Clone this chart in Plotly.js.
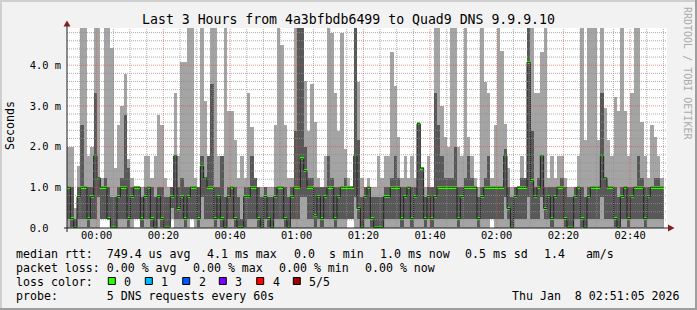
<!DOCTYPE html>
<html><head><meta charset="utf-8">
<script src="https://cdn.plot.ly/plotly-3.0.1.min.js"></script>
<style>html,body{margin:0;padding:0;background:#f2f2f2;}#chart{width:697px;height:310px;}</style>
</head><body><div id="chart"></div>
<script>
// one value per minute, ms; 9 = above graph maximum
const ping1 = [0,0,0,0,0,0,0,0,0,0, 0.23,0.23,0.23,0,0,0,0,0,0,0, 0.23,0.23,0,0,0,0,0,0,0,0,
 0.02,0.23,0,0,0,0,0,0.23,0,0, 0,0,0,0,0,0,0,0,0,0, 0,0,0,0,0,0,0,0,0,0,
 0,0,0,0,0,0,0,0,0,0, 0,0,0,0,0,0,0,0,0,0, 0,0,0,0,0.23,0.23,0,0,0,0,
 0,0,0,0,0,0,0,0,0,0, 0,0,0,0,0,0,0,0,0,0, 0,0,0,0,0,0,0,0,0,0,
 0,0,0,0,0,0,0,0.23,0,0, 0,0,0,0,0,0,0,0,0,0, 0,0,0,0,0,0,0,0,0,0,
 0,0,0,0,0,0,0,0,0,0, 0,0,0,0,0,0,0,0,0,0, 0,0,0,0,0,0,0,0,0];
const ping2 = [0.23,0.02,0.02,0.23,0.23,0.23,0.02,0.23,0.23,0.77, 0.23,0.23,0.23,0.02,0.02,0.23,0.23,0.23,0.02,0.23,
 0.23,0.23,0.02,0.23,0.23,0.02,0.02,0.23,0.02,0.02, 0.02,0.48,0.23,0.23,0.23,0.02,0.23,0.23,0.23,0.02,
 0.77,0.23,0.23,0.23,0.02,0.23,0.02,0.02,0.23,0.23, 0.02,0.02,0.02,0.02,0.23,0.23,0.23,0.02,0.02,0.23,
 0.02,0.02,0.23,0.23,0.23,0.02,0.02,0.23,0.23,0.23, 0.77,0.77,0.23,0.23,0.02,0.23,0.02,0.23,0.23,0.23,
 0.02,0.23,0.23,0.23,0.23,0.23,0.77,0.23,0.02,0.23, 0.23,0.02,0.02,0.02,0.02,0.23,0.23,0.23,0.23,0.23,
 0.02,0.23,0.23,0.02,0.23,0.23,0.23,0.02,0.23,0.02, 0.23,0.23,0.23,0.23,0.23,0.23,0.23,0.02,0.23,0.23,
 0.23,0.23,0.23,0.02,0.23,0.23,0.23,0.23,0.23,0.23, 0.23,0.77,0.23,0.02,0.23,0.23,0.23,0.23,0.77,0.23,
 0.23,0.23,0.77,0.23,0.23,0.02,0.23,0.23,0.23,0.02, 0.02,0.02,0.23,0.23,0.02,0.02,0.23,0.23,0.23,0.23,
 0.77,0.23,0.23,0.23,0.02,0.02,0.23,0.23,0.02,0.23, 0.23,0.23,0.23,0.02,0.23,0.23,0.23,0.23,0.23];
const median = [1.0,0.23,0.02,0.77,1.0,1.0,0.23,0.77,1.77,1.23, 1.0,1.0,0.23,0.02,0.02,0.77,1.0,1.0,0.23,0.77,
 1.0,1.0,0.23,0.77,1.0,0.23,0.02,0.77,0.23,0.02, 0.02,0.77,1.77,0.48,0.77,0.23,0.77,1.0,1.0,0.23,
 1.52,1.23,1.0,1.0,0.23,0.77,0.23,0.02,0.77,1.0, 0.23,0.02,0.02,0.77,0.77,1.0,1.0,0.23,0.02,0.77,
 0.23,0.02,0.77,1.0,1.0,0.23,0.02,0.77,1.0,1.0, 1.7,1.41,1.0,1.0,0.3,0.77,0.23,0.77,1.0,1.0,
 0.23,0.77,1.0,1.0,1.0,1.0,1.77,0.48,0.02,0.77, 1.0,0.23,0.02,0.02,0.02,0.77,0.77,1.0,1.0,1.0,
 0.23,0.77,1.0,0.23,0.77,2.56,1.47,0.23,0.77,0.23, 0.77,1.0,1.0,1.0,1.0,1.0,1.0,0.23,0.77,1.0,
 1.0,1.0,1.0,0.23,0.77,1.0,1.0,1.0,1.0,1.0, 1.0,1.77,0.48,0.02,0.77,1.0,1.0,1.0,4.07,1.16,
 0.77,1.0,1.77,0.48,0.77,0.23,0.77,1.0,1.0,0.23, 0.02,0.02,0.77,1.0,0.23,0.02,0.77,1.0,1.0,1.0,
 1.77,1.23,1.0,1.0,0.23,0.02,0.77,1.0,0.23,0.77, 1.0,1.0,1.0,0.23,0.77,1.0,1.0,1.0,1.0];
const ping4 = [1.0,1.0,0.23,1.0,2.53,1.0,1.0,1.0,3.32,1.23, 1.0,1.23,1.0,0.77,0.77,1.0,1.23,2.78,1.47,1.0,
 1.0,1.0,0.77,1.0,1.0,1.0,0.77,1.0,1.0,0.77, 0.77,1.0,1.77,1.0,1.23,1.0,1.0,1.0,1.0,1.0,
 1.77,1.23,1.77,3.54,1.0,1.0,1.77,0.77,1.0,1.0, 1.0,0.77,0.23,1.0,1.0,1.77,1.23,1.0,0.77,1.0,
 0.77,0.77,1.0,1.0,1.0,1.0,0.77,1.0,2.39,9, 9,1.98,1.23,1.23,1.0,1.0,1.0,1.0,1.77,1.23,
 1.0,1.0,1.0,1.23,1.0,1.0,9,2.16,0.77,1.0, 1.0,0.77,0.77,0.77,0.77,1.0,1.0,1.23,1.77,1.23,
 1.0,1.0,1.0,1.0,1.0,2.56,1.47,0.77,1.0,1.0, 3.32,2.53,1.77,1.23,1.23,1.23,1.99,1.0,1.0,1.23,
 1.77,1.23,1.0,0.77,1.0,1.23,1.77,1.0,1.0,1.0, 1.0,1.95,1.0,0.77,1.0,1.0,1.23,1.23,9,2.39,
 1.0,1.23,1.77,1.0,1.0,1.0,1.0,1.0,1.23,1.0, 0.77,0.77,1.0,1.0,1.0,0.77,1.0,1.0,1.0,1.0,
 3.32,1.23,1.0,1.0,1.0,0.77,1.0,1.0,1.0,1.0, 1.0,1.77,1.23,1.0,1.0,1.0,1.23,1.23,1.0];
const ping5 = [1.99,1.99,0.48,1.52,9,9,1.77,1.99,9,9, 1.23,9,9,4.42,1.47,2.53,3.0,3.78,1.7,1.23,
 1.0,1.0,1.0,1.77,1.77,1.23,1.77,2.78,2.53,1.23, 1.0,1.0,3.32,1.77,4.07,4.07,9,9,1.23,1.0,
 9,3.12,1.77,9,9,1.77,1.77,9,2.88,2.88, 2.16,1.23,1.77,1.23,3.32,2.48,1.23,1.0,1.0,1.0,
 1.0,1.0,2.53,9,4.5,2.53,1.23,1.23,9,9, 9,3.62,2.39,3.54,2.61,1.23,1.0,1.77,9,4.8,
 3.32,2.39,4.8,1.95,1.23,1.0,9,3.58,1.23,1.0, 1.23,1.0,1.0,1.77,1.23,1.77,1.77,4.32,3.5,2.23,
 1.23,1.77,1.23,1.77,1.23,2.56,1.47,1.0,1.77,1.0, 9,9,3.0,2.23,1.99,9,9,1.99,1.77,9,
 2.23,1.77,1.23,1.0,9,3.58,3.32,1.23,2.53,9, 4.36,2.56,1.47,1.0,1.0,1.0,1.77,1.23,9,9,
 3.32,3.32,4.32,9,1.23,1.77,1.23,1.77,1.77,1.23, 1.0,1.0,1.0,1.77,9,2.16,9,9,9,2.16,
 9,2.96,2.16,1.77,3.21,2.88,9,2.88,1.77,3.32, 9,9,2.61,1.77,1.23,2.53,2.23,1.77,1.23];

const yTickVals = [0, 1, 2, 3, 4];
const yTickText = ['0.0  ', '1.0 m', '2.0 m', '3.0 m', '4.0 m'];
const lossLabels = ['0', '1', '2', '3', '4', '5/5'];
const lossColors = ['#26ff00', '#00b8ff', '#0059ff', '#7e00ff', '#ff0000', '#a00000'];

const START = Date.UTC(2026, 0, 7, 23, 51, 5);
const STEP = 60000, SPAN = 180;
const fmt = ms => new Date(ms).toISOString().replace('T', ' ').slice(0, 19);
const n = median.length;
const centers = [], starts = [];
for (let i = 0; i < n; i++) { centers.push(fmt(START + (i + 0.5) * STEP)); starts.push(fmt(START + i * STEP)); }
const lineX = starts.concat([fmt(START + n * STEP)]);
const lineY = median.concat([median[n - 1]]);
const HW = 0.033;

const L = 67, R = 667, T = 28, B = 228, YMAX = 4.914;
const px = p => (p - L) / (R - L);
const py = p => (B - p) / (B - T);
const nb = s => s.replace(/ /g, '\u00a0');
const MONO = 'DejaVu Sans Mono, monospace';

const traces = [
  {type: 'bar', x: centers, base: ping1, y: ping5.map((v, i) => v - ping1[i]), width: STEP,
   marker: {color: '#a4a4a4', line: {width: 0}}, hoverinfo: 'skip'},
  {type: 'bar', x: centers, base: ping2, y: ping4.map((v, i) => v - ping2[i]), width: STEP,
   marker: {color: '#585858', line: {width: 0}}, hoverinfo: 'skip'},
  {type: 'scatter', mode: 'lines', x: lineX, y: lineY, line: {shape: 'hv', color: '#202020', width: 1}, hoverinfo: 'skip'},
  {type: 'bar', x: centers, base: median.map(v => v - HW), y: median.map(() => 2 * HW), width: STEP,
   marker: {color: lossColors[0], line: {width: 0}}, hoverinfo: 'skip'}
];

const shapes = [];
const gridMinor = 'rgba(143,143,143,0.75)', gridMajor = 'rgba(222,79,79,0.6)';
const firstGrid = Date.UTC(2026, 0, 7, 23, 55, 0);
const midnight = Date.UTC(2026, 0, 8, 0, 0, 0);
for (let t = firstGrid; t < START + SPAN * STEP; t += 5 * STEP) {
  const major = ((t - midnight) % (20 * STEP)) === 0;
  shapes.push({type: 'line', layer: 'above', xref: 'x', yref: 'paper', x0: fmt(t), x1: fmt(t), y0: 0, y1: 1,
    line: {color: major ? gridMajor : gridMinor, width: 1, dash: '1px,1px'}});
}
for (let k = 1; k * 0.2 < YMAX; k++) {
  const v = k * 0.2, major = (k % 5) === 0;
  shapes.push({type: 'line', layer: 'above', xref: 'paper', yref: 'y', x0: 0, x1: 1, y0: v, y1: v,
    line: {color: major ? gridMajor : gridMinor, width: 1, dash: '1px,1px'}});
}
shapes.push({type: 'line', layer: 'above', xref: 'paper', yref: 'paper', x0: px(L), x1: px(L), y0: py(B + 4), y1: py(25),
  line: {color: '#1f1f1f', width: 1}});
shapes.push({type: 'line', layer: 'above', xref: 'paper', yref: 'paper', x0: px(L - 3), x1: px(669), y0: py(B), y1: py(B),
  line: {color: '#1f1f1f', width: 1}});
shapes.push({type: 'path', layer: 'above', xref: 'paper', yref: 'paper',
  path: `M ${px(L)} ${py(20.5)} L ${px(L - 3.5)} ${py(26.5)} L ${px(L + 3.5)} ${py(26.5)} Z`,
  fillcolor: '#801f1f', line: {width: 0}});
shapes.push({type: 'path', layer: 'above', xref: 'paper', yref: 'paper',
  path: `M ${px(674.5)} ${py(B)} L ${px(668)} ${py(B - 3.5)} L ${px(668)} ${py(B + 3.5)} Z`,
  fillcolor: '#801f1f', line: {width: 0}});
shapes.push({type: 'line', xref: 'paper', yref: 'paper', x0: px(0), x1: px(697), y0: py(1), y1: py(1), line: {color: '#cfcfcf', width: 2}});
shapes.push({type: 'line', xref: 'paper', yref: 'paper', x0: px(1), x1: px(1), y0: py(0), y1: py(310), line: {color: '#cfcfcf', width: 2}});
shapes.push({type: 'line', xref: 'paper', yref: 'paper', x0: px(0), x1: px(697), y0: py(309), y1: py(309), line: {color: '#9e9e9e', width: 2}});
shapes.push({type: 'line', xref: 'paper', yref: 'paper', x0: px(696), x1: px(696), y0: py(0), y1: py(310), line: {color: '#9e9e9e', width: 2}});

const annotations = [];
const txt = (x, y, s, opt = {}) => annotations.push(Object.assign({
  xref: 'paper', yref: 'paper', x: px(x), y: py(y), xanchor: 'left', yanchor: 'middle', showarrow: false,
  text: nb(s), font: {family: MONO, size: 11.6, color: '#000'}, borderpad: 0}, opt));
const legendRows = [
  [254, [[16, 'median rtt:  749.4 us avg'], [207.3, '4.1 ms max'], [293.5, '0.0  s min'],
         [379.5, '1.0 ms now'], [465, '0.5 ms sd'], [544.3, '1.4   am/s']]],
  [268, [[16, 'packet loss: 0.00 % avg'], [193.3, '0.00 % max'], [279.3, '0.00 % min'], [365.3, '0.00 % now']]],
  [282, [[16, 'loss color:']]],
  [296, [[16, 'probe:       5 DNS requests every 60s']]]
];
legendRows.forEach(([y, items]) => items.forEach(([x, s]) => txt(x - 1, y, s)));
txt(681, 296, 'Thu Jan  8 02:51:05 2026', {xanchor: 'right'});
const boxX = [108.3, 145.3, 182.7, 219.3, 256.7, 293.3];
lossLabels.forEach((lab, i) => {
  shapes.push({type: 'rect', xref: 'paper', yref: 'paper', x0: px(boxX[i]), x1: px(boxX[i] + 7), y0: py(277.5), y1: py(284.5),
    fillcolor: lossColors[i], line: {color: '#000', width: 1}});
  txt(boxX[i] + 15, 282, lab);
});
txt(10, 126, 'Seconds', {textangle: -90, xanchor: 'center'});
txt(688, 73, 'RRDTOOL / TOBI OETIKER', {textangle: 90, xanchor: 'center', font: {family: MONO, size: 10, color: '#ababab'}});

const layout = {
  width: 697, height: 310,
  margin: {l: L, r: 697 - R, t: T, b: 310 - B, pad: 0},
  paper_bgcolor: '#f2f2f2', plot_bgcolor: '#ffffff',
  showlegend: false, barmode: 'overlay', bargap: 0,
  title: {text: 'Last 3 Hours from 4a3bfbdb6499 to Quad9 DNS 9.9.9.10', xref: 'container', yref: 'container',
          x: 0.5, y: 1 - 19 / 310, xanchor: 'center', yanchor: 'middle', font: {family: MONO, size: 13.2, color: '#000'}},
  xaxis: {type: 'date', range: [fmt(START), fmt(START + SPAN * STEP)], tickmode: 'linear',
          tick0: '2026-01-08 00:00:00', dtick: 20 * STEP, tickformat: '%H:%M', showgrid: false, zeroline: false,
          showline: false, ticks: '',
          tickfont: {family: MONO, size: 10.4, color: '#000'}, fixedrange: true},
  yaxis: {range: [0, YMAX], tickmode: 'array', tickvals: yTickVals, ticktext: yTickText.map(nb), showgrid: false,
          zeroline: false, showline: false, ticks: '', ticklabelstandoff: 5,
          tickfont: {family: MONO, size: 10.4, color: '#000'}, fixedrange: true},
  shapes: shapes, annotations: annotations
};
Plotly.newPlot('chart', traces, layout, {staticPlot: true, displayModeBar: false});
</script></body></html>
